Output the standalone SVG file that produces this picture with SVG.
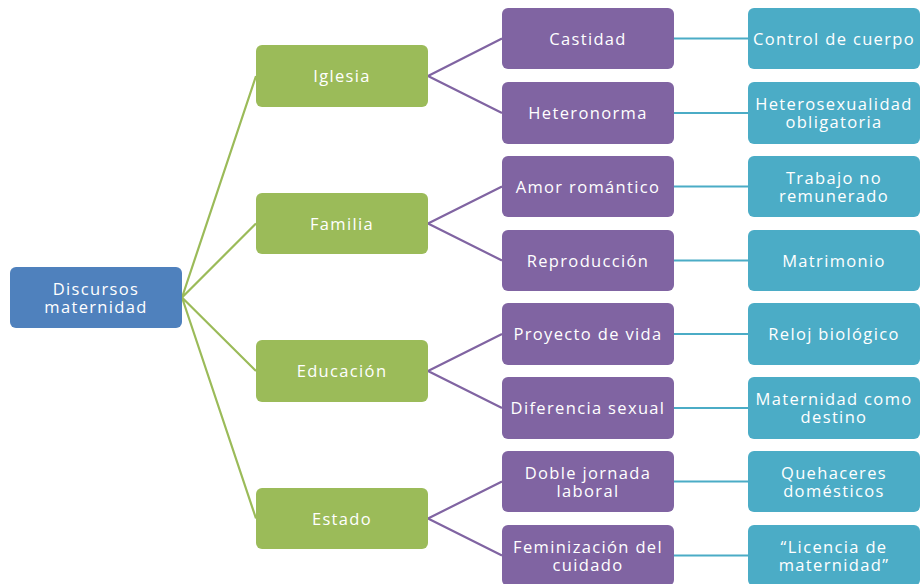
<svg xmlns="http://www.w3.org/2000/svg" width="922" height="584" viewBox="0 0 922 584">
<style>
.n{stroke:none}
.root{fill:#4F81BD}
.g{fill:#9BBB59}
.p{fill:#8064A2}
.t{fill:#4BACC6}
text{font-family:"Open Sans","Liberation Sans",sans-serif;font-size:16.5px;fill:#fff;text-anchor:middle;dominant-baseline:central;letter-spacing:1.35px}
.cg{stroke:#9BBB59;stroke-width:2.2;fill:none}
.cp{stroke:#8064A2;stroke-width:2.2;fill:none}
.ct{stroke:#4BACC6;stroke-width:2.2;fill:none}
</style>
<rect width="922" height="584" fill="#fff"/>
<g id="connectors">
<path class="cg" d="M182,297.5L256,76M182,297.5L256,223.5M182,297.5L256,371M182,297.5L256,518.5"/>
<path class="cp" d="M428,76L502,38.5M428,76L502,113M428,223.5L502,186.5M428,223.5L502,260.5M428,371L502,334M428,371L502,408M428,518.5L502,481.5M428,518.5L502,555.5"/>
<path class="ct" d="M674,38.5H748M674,113H748M674,186.5H748M674,260.5H748M674,334H748M674,408H748M674,481.5H748M674,555.5H748"/>
</g>
<g id="root"><rect class="root" x="10" y="267" width="172" height="61" rx="6"/><text x="96" y="288.5">Discursos</text><text x="96" y="306.5">maternidad</text></g>
<g id="iglesia"><rect class="g" x="256" y="45" width="172" height="62" rx="6"/><text x="342" y="75.5">Iglesia</text></g>
<g id="familia"><rect class="g" x="256" y="193" width="172" height="61" rx="6"/><text x="342" y="223">Familia</text></g>
<g id="educacion"><rect class="g" x="256" y="340" width="172" height="62" rx="6"/><text x="342" y="370.5">Educación</text></g>
<g id="estado"><rect class="g" x="256" y="488" width="172" height="61" rx="6"/><text x="342" y="518">Estado</text></g>
<g id="castidad"><rect class="p" x="502" y="8" width="172" height="61" rx="6"/><text x="588" y="38">Castidad</text></g>
<g id="heteronorma"><rect class="p" x="502" y="82" width="172" height="62" rx="6"/><text x="588" y="112.5">Heteronorma</text></g>
<g id="amor"><rect class="p" x="502" y="156" width="172" height="61" rx="6"/><text x="588" y="186">Amor romántico</text></g>
<g id="reproduccion"><rect class="p" x="502" y="230" width="172" height="61" rx="6"/><text x="588" y="260">Reproducción</text></g>
<g id="proyecto"><rect class="p" x="502" y="303" width="172" height="62" rx="6"/><text x="588" y="333.5">Proyecto de vida</text></g>
<g id="diferencia"><rect class="p" x="502" y="377" width="172" height="62" rx="6"/><text x="588" y="407.5">Diferencia sexual</text></g>
<g id="doble"><rect class="p" x="502" y="451" width="172" height="61" rx="6"/><text x="588" y="472">Doble jornada</text><text x="588" y="490">laboral</text></g>
<g id="feminizacion"><rect class="p" x="502" y="525" width="172" height="61" rx="6"/><text x="588" y="546">Feminización del</text><text x="588" y="564">cuidado</text></g>
<g id="control"><rect class="t" x="748" y="8" width="172" height="61" rx="6"/><text x="834" y="38">Control de cuerpo</text></g>
<g id="hetero"><rect class="t" x="748" y="82" width="172" height="62" rx="6"/><text x="834" y="103.5">Heterosexualidad</text><text x="834" y="121.5">obligatoria</text></g>
<g id="trabajo"><rect class="t" x="748" y="156" width="172" height="61" rx="6"/><text x="834" y="177">Trabajo no</text><text x="834" y="195">remunerado</text></g>
<g id="matrimonio"><rect class="t" x="748" y="230" width="172" height="61" rx="6"/><text x="834" y="260">Matrimonio</text></g>
<g id="reloj"><rect class="t" x="748" y="303" width="172" height="62" rx="6"/><text x="834" y="333.5">Reloj biológico</text></g>
<g id="destino"><rect class="t" x="748" y="377" width="172" height="62" rx="6"/><text x="834" y="398.5">Maternidad como</text><text x="834" y="416.5">destino</text></g>
<g id="quehaceres"><rect class="t" x="748" y="451" width="172" height="61" rx="6"/><text x="834" y="472">Quehaceres</text><text x="834" y="490">domésticos</text></g>
<g id="licencia"><rect class="t" x="748" y="525" width="172" height="61" rx="6"/><text x="834" y="546">“Licencia de</text><text x="834" y="564">maternidad”</text></g>
</svg>
